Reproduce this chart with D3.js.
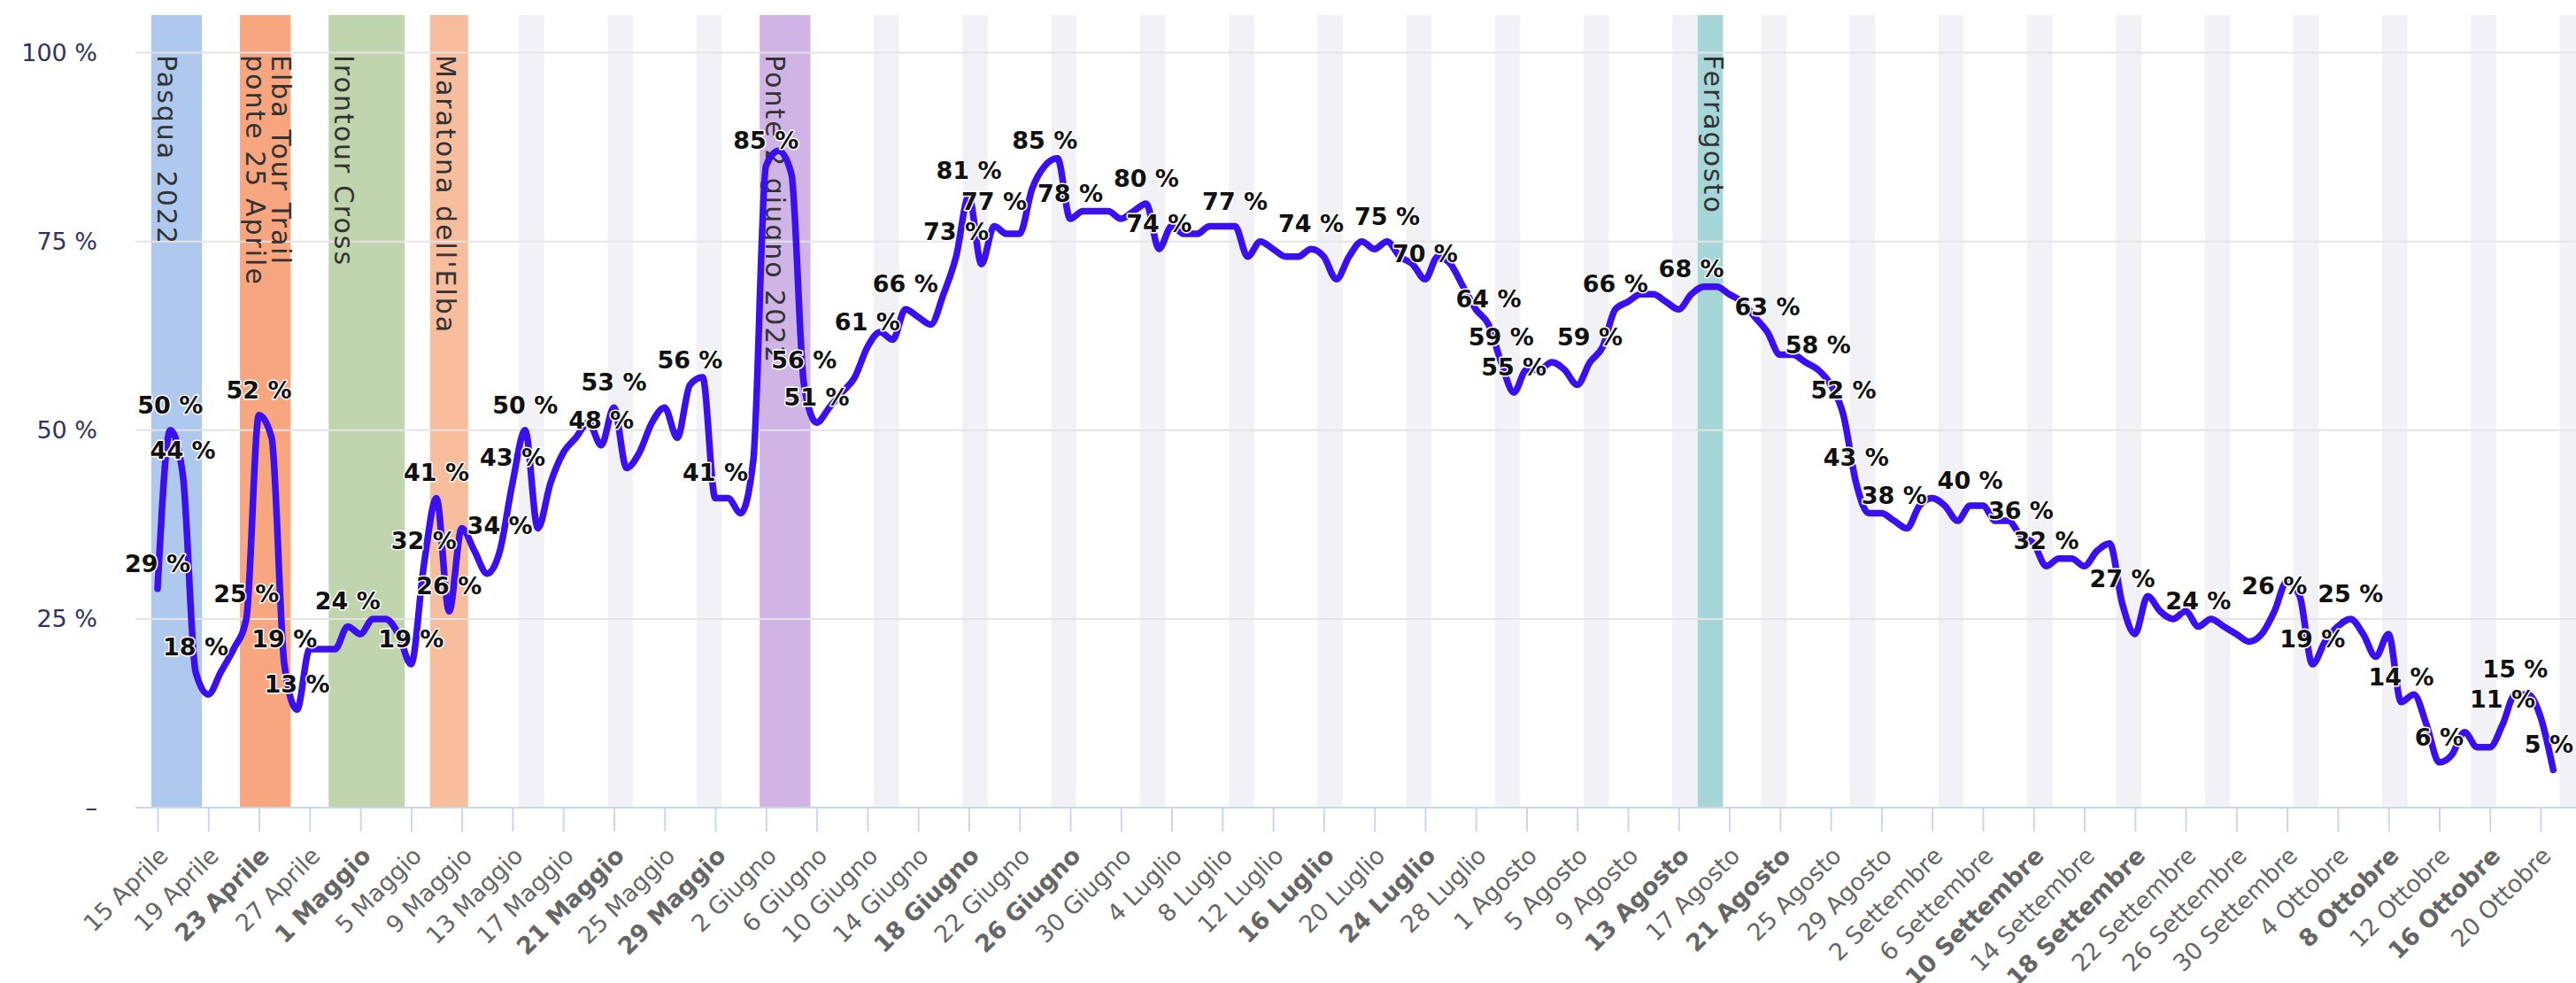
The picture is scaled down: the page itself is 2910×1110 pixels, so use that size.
<!DOCTYPE html>
<html>
<head>
<meta charset="utf-8">
<script src="https://cdn.jsdelivr.net/npm/d3@7"></script>
<style>
    body { margin: 0; background: #fff; }
    svg { display: block; }
</style>
</head>
<body>
<div id="chart"></div>
<script>
// Data: daily occupancy from 15 April 2022
const start_day = '2022-04-15';
const occupancy = [
    29, 50, 44, 18, 15, 18, 21, 25, 52, 49, 19, 13, 21, 21, 21, 24,      // 15-30 Apr
    23, 25, 25, 23, 19, 32, 41, 26, 37, 34, 31, 34, 43, 50, 37, 43,      // 1-16 May
    47, 49, 51, 48, 53, 45, 47, 51, 53, 49, 56, 57, 41, 41, 39,          // 17-31 May
    46, 85, 87, 84, 56, 51, 53, 55, 57, 61, 63, 62, 66, 65, 64,          // 1-15 Jun
    68, 73, 81, 72, 77, 76, 76, 82, 85, 86, 78, 79, 79, 79, 78,          // 16-30 Jun
    79, 80, 74, 77, 76, 76, 77, 77, 77, 73, 75, 74, 73, 73, 74, 73,      // 1-16 Jul
    70, 73, 75, 74, 75, 73, 72, 70, 73, 72, 69, 66, 64, 59, 55,          // 17-31 Jul
    58, 58, 59, 58, 56, 59, 61, 66, 67, 68, 68, 67, 66, 68, 69, 69,      // 1-16 Aug
    68, 67, 65, 63, 60, 60, 59, 58, 56, 52, 43, 39, 39, 38, 37,          // 17-31 Aug
    40, 41, 40, 38, 40, 40, 38, 38, 36, 35, 32, 33, 33, 32, 34,          // 1-15 Sep
    35, 27, 23, 28, 26, 25, 26, 24, 25, 24, 23, 22, 23, 26, 30,          // 16-30 Sep
    28, 19, 22, 24, 25, 23, 20, 23, 14, 15, 11, 6, 7, 10, 8, 8,          // 1-16 Oct
    11, 15, 15, 12, 5                                                    // 17-21 Oct
];

// points that carry a visible data label
const labelled_days = [
    '2022-04-15', '2022-04-16', '2022-04-17', '2022-04-18', '2022-04-22', '2022-04-23',
    '2022-04-25', '2022-04-26', '2022-04-30', '2022-05-05', '2022-05-06', '2022-05-07',
    '2022-05-08', '2022-05-12', '2022-05-13', '2022-05-14', '2022-05-20', '2022-05-21',
    '2022-05-27', '2022-05-29', '2022-06-02', '2022-06-05', '2022-06-06', '2022-06-10',
    '2022-06-13', '2022-06-17', '2022-06-18', '2022-06-20', '2022-06-24', '2022-06-26',
    '2022-07-02', '2022-07-03', '2022-07-09', '2022-07-15', '2022-07-21', '2022-07-24',
    '2022-07-29', '2022-07-30', '2022-07-31', '2022-08-06', '2022-08-08', '2022-08-14',
    '2022-08-20', '2022-08-24', '2022-08-26', '2022-08-27', '2022-08-30', '2022-09-05',
    '2022-09-09', '2022-09-11', '2022-09-17', '2022-09-23', '2022-09-29', '2022-10-02',
    '2022-10-05', '2022-10-09', '2022-10-12', '2022-10-17', '2022-10-18', '2022-10-21'
];

// Events (first and last day covered)
const event_names = [['Pasqua 2022'], ['Elba Tour Trail', 'ponte 25 Aprile'], ['Irontour Cross'],
    ["Maratona dell'Elba"], ['Ponte 2 giugno 2022'], ['Ferragosto']];
const event_from = ['2022-04-15', '2022-04-22', '2022-04-29', '2022-05-07', '2022-06-02', '2022-08-15'];
const event_to = ['2022-04-18', '2022-04-25', '2022-05-04', '2022-05-09', '2022-06-05', '2022-08-16'];
const event_colors = ['#afc8ee', '#f7a67f', '#c0d4ae', '#f8bd9d', '#d1b4e6', '#a6d6d8'];

const month_names = ['Gennaio', 'Febbraio', 'Marzo', 'Aprile', 'Maggio', 'Giugno', 'Luglio',
    'Agosto', 'Settembre', 'Ottobre', 'Novembre', 'Dicembre'];
const y_ticks = [0, 25, 50, 75, 100];
const first_tick = '2022-04-15';
const last_tick = '2022-10-20';

const chart_width = 2910;
const chart_height = 1110;
const plot_left = 153;
const plot_right = 2910;
const plot_top = 17;
const font = '"DejaVu Sans", Verdana, sans-serif';

const parse = d3.timeParse('%Y-%m-%d');
const fmt = d3.timeFormat('%Y-%m-%d');
const day0 = parse(start_day);

const data = occupancy.map((v, i) => ({date: d3.timeDay.offset(day0, i), value: v}));

// Scales
const x_scale = d3.scaleTime()
    .domain([parse(first_tick), parse(last_tick)])
    .range([178, 2870]);

const y_scale = d3.scaleLinear()
    .domain([0, 100])
    .range([912, 59.5]);

const half_day = d => d3.timeHour.offset(d, -12);

// SVG
const svg = d3.select('#chart')
    .append('svg')
    .attr('width', chart_width)
    .attr('height', chart_height);

svg.append('clipPath')
    .attr('id', 'plot-clip')
    .append('rect')
    .attr('x', plot_left)
    .attr('y', plot_top)
    .attr('width', plot_right - plot_left)
    .attr('height', y_scale(0) - plot_top);

const bands = svg.append('g').attr('clip-path', 'url(#plot-clip)');

// Weekend bands (Saturday + Sunday)
const saturdays = d3.timeSaturday.range(d3.timeDay.offset(day0, -7), d3.timeDay.offset(parse(last_tick), 7));
bands.selectAll('rect.weekend')
    .data(saturdays)
    .join('rect')
    .attr('class', 'weekend')
    .attr('x', d => x_scale(half_day(d)))
    .attr('width', d => x_scale(d3.timeHour.offset(d, 36)) - x_scale(half_day(d)))
    .attr('y', plot_top)
    .attr('height', y_scale(0) - plot_top)
    .attr('fill', '#f2f2f6');

// Event bands
const events = event_names.map((n, i) => ({
    lines: n,
    from: half_day(parse(event_from[i])),
    to: d3.timeHour.offset(parse(event_to[i]), 12),
    color: event_colors[i]
}));

bands.selectAll('rect.event')
    .data(events)
    .join('rect')
    .attr('class', 'event')
    .attr('x', d => x_scale(d.from))
    .attr('width', d => x_scale(d.to) - x_scale(d.from))
    .attr('y', plot_top)
    .attr('height', y_scale(0) - plot_top)
    .attr('fill', d => d.color);

// Grid lines
svg.append('g')
    .selectAll('line')
    .data(y_ticks.filter(t => t > 0))
    .join('line')
    .attr('x1', plot_left)
    .attr('x2', plot_right)
    .attr('y1', d => y_scale(d))
    .attr('y2', d => y_scale(d))
    .attr('stroke', '#e4e4e4')
    .attr('stroke-width', 2);

// Event labels, rotated
events.forEach(ev => {
    const n = ev.lines.length;
    ev.lines.forEach((line, i) => {
        const bx = x_scale(ev.from) + 7 + (n - 1 - i) * 29;
        svg.append('text')
            .attr('transform', `translate(${bx}, 62) rotate(90)`)
            .attr('font-family', font)
            .attr('font-size', 30)
            .attr('letter-spacing', 2)
            .attr('fill', '#333')
            .text(line);
    });
});

// X axis
const tick_dates = d3.timeDay.range(parse(first_tick), d3.timeDay.offset(parse(last_tick), 1), 4);
const weekend = d => d.getDay() === 0 || d.getDay() === 6;

const x_axis = d3.axisBottom(x_scale)
    .tickValues(tick_dates)
    .tickSize(27)
    .tickSizeOuter(0)
    .tickFormat(d => `${d.getDate()} ${month_names[d.getMonth()]}`);

const gx = svg.append('g')
    .attr('transform', `translate(0, ${y_scale(0)})`)
    .call(x_axis);

gx.select('.domain').remove();
gx.selectAll('.tick line')
    .attr('stroke', '#ccd6eb')
    .attr('stroke-width', 2);
gx.selectAll('.tick text')
    .attr('x', 0)
    .attr('y', 0)
    .attr('dy', 0)
    .attr('transform', 'translate(13, 56) rotate(-45)')
    .attr('text-anchor', 'end')
    .attr('font-family', font)
    .attr('font-size', 27)
    .attr('font-weight', d => weekend(d) ? 'bold' : 'normal')
    .attr('fill', '#666');

svg.append('line')
    .attr('x1', plot_left)
    .attr('x2', plot_right)
    .attr('y1', y_scale(0))
    .attr('y2', y_scale(0))
    .attr('stroke', '#ccd6eb')
    .attr('stroke-width', 2);

// Y axis
const y_axis = d3.axisLeft(y_scale)
    .tickValues(y_ticks)
    .tickSize(0)
    .tickFormat(d => d === 0 ? '–' : `${d} %`);

const gy = svg.append('g')
    .attr('transform', 'translate(110, 0)')
    .call(y_axis);

gy.select('.domain').remove();
gy.selectAll('.tick text')
    .attr('x', 0)
    .attr('font-family', font)
    .attr('font-size', 27)
    .attr('fill', '#33335a');

// Line
const line = d3.line()
    .x(d => x_scale(d.date))
    .y(d => y_scale(d.value))
    .curve(d3.curveMonotoneX);

svg.append('path')
    .datum(data)
    .attr('fill', 'none')
    .attr('stroke', '#3a10ee')
    .attr('stroke-width', 7.5)
    .attr('stroke-linejoin', 'round')
    .attr('stroke-linecap', 'round')
    .attr('d', line);

// Data labels
const label_set = new Set(labelled_days);
svg.append('g')
    .selectAll('text')
    .data(data.filter(d => label_set.has(fmt(d.date))))
    .join('text')
    .attr('x', d => x_scale(d.date))
    .attr('y', d => y_scale(d.value) - 19)
    .attr('text-anchor', 'middle')
    .attr('font-family', font)
    .attr('font-size', 27)
    .attr('font-weight', 'bold')
    .attr('fill', '#111')
    .attr('stroke', '#fff')
    .attr('stroke-width', 3)
    .attr('stroke-linejoin', 'round')
    .attr('paint-order', 'stroke')
    .text(d => `${d.value} %`)
    .each(function(d) {
        // keep labels inside the plot on the right edge
        const w = this.getComputedTextLength();
        const x = x_scale(d.date);
        if (x + w / 2 > plot_right - 3) d3.select(this).attr('x', plot_right - 3 - w / 2);
    });
</script>
</body>
</html>
